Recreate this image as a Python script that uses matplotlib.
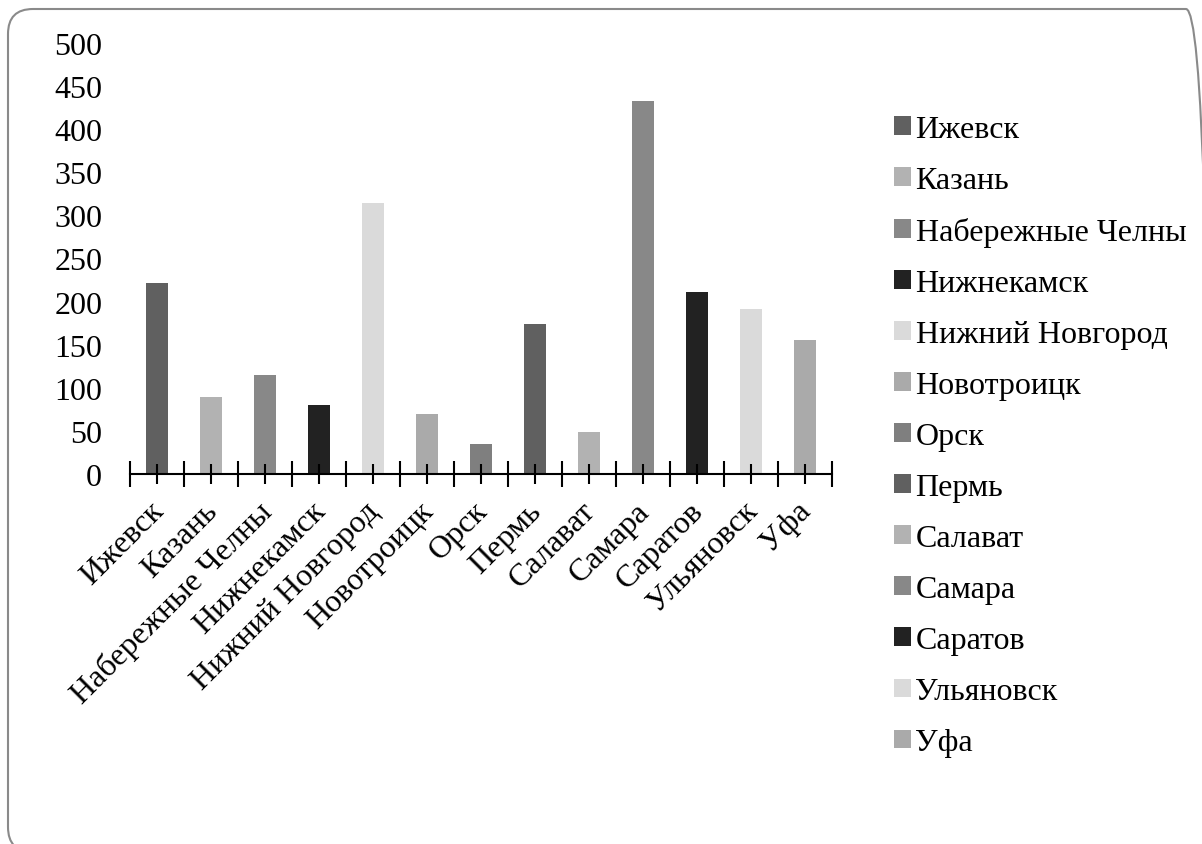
import numpy as np
import matplotlib
matplotlib.use("Agg")
import matplotlib.pyplot as plt
from matplotlib.patches import FancyBboxPatch
from matplotlib.transforms import ScaledTranslation

cities = ["Ижевск", "Казань", "Набережные Челны", "Нижнекамск", "Нижний Новгород",
          "Новотроицк", "Орск", "Пермь", "Салават", "Самара", "Саратов",
          "Ульяновск", "Уфа"]
values = [222, 89, 115, 80, 314, 70, 35, 174, 49, 433, 211, 191, 155]
colors = ["#606060", "#b2b2b2", "#888888", "#222222", "#dadada", "#aaaaaa",
          "#7f7f7f", "#606060", "#b2b2b2", "#888888", "#222222", "#dadada", "#aaaaaa"]
yticks = [0, 50, 100, 150, 200, 250, 300, 350, 400, 450, 500]

plt.rcParams["font.family"] = ["Liberation Serif", "DejaVu Serif"]

W, H = 1202, 845
fig = plt.figure(figsize=(W / 100, H / 100), dpi=100)
ax = fig.add_axes([130 / W, (H - 475) / H, 702 / W, 431 / H])

x = np.arange(len(cities))
for i in range(len(cities)):
    ax.bar(x[i], values[i], width=0.41, color=colors[i], label=cities[i], zorder=1)

ax.set_xlim(-0.5, len(cities) - 0.5)
ax.set_ylim(0, 500)
ax.set_yticks(yticks)
ax.tick_params(axis="y", length=0, pad=20, labelsize=23)

# boundaries between categories as major ticks, centres as minor ticks with labels
ax.set_xticks(np.arange(len(cities) + 1) - 0.5)
ax.set_xticklabels([])
ax.set_xticks(x, minor=True)
ax.set_xticklabels(cities, minor=True, rotation=45, ha="right", va="top",
                   rotation_mode="anchor", fontsize=23)
ax.tick_params(axis="x", which="major", direction="inout", length=19, width=1.5, color="black")
ax.tick_params(axis="x", which="minor", direction="inout", length=14, width=1.5, color="black", pad=9)
shift = ScaledTranslation(-6 / 72, 0, fig.dpi_scale_trans)
for lbl in ax.get_xticklabels(minor=True):
    lbl.set_transform(lbl.get_transform() + shift)

for s in ["top", "right", "left"]:
    ax.spines[s].set_visible(False)
ax.spines["bottom"].set_linewidth(1.5)
ax.spines["bottom"].set_zorder(3)

fig.legend(loc="upper left", bbox_to_anchor=(881 / W, (H - 103) / H),
           frameon=False, fontsize=23, handlelength=0.53, handleheight=0.53,
           handletextpad=0.15, labelspacing=0.69, borderaxespad=0)

# rounded slide frame, running off the right and bottom edges
frame = FancyBboxPatch((8 / W, -8 / H), 1203 / W, 843 / H,
                       boxstyle="round,pad=0,rounding_size=%f" % (25 / W),
                       mutation_aspect=W / H, transform=fig.transFigure,
                       facecolor="none", edgecolor="#8a8a8a", linewidth=1.5)
fig.patches.append(frame)

fig.savefig("out.png", dpi=100)
